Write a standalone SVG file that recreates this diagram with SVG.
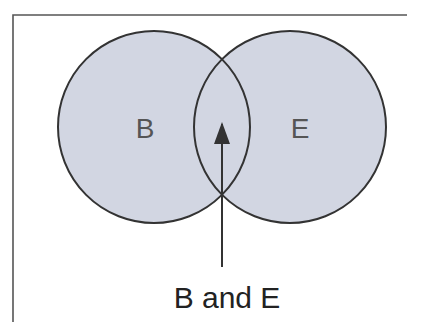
<svg xmlns="http://www.w3.org/2000/svg" width="425" height="322" viewBox="0 0 425 322">
  <style>
    .fill { fill: #d2d6e2; stroke: none; }
    .ring { fill: none; stroke: #333; stroke-width: 2; }
    .frame { fill: none; stroke: #555; stroke-width: 1.6; }
    .lbl { font-family: "Liberation Sans", Arial, sans-serif; font-size: 28px; text-anchor: middle; }
    .conn { stroke: #333; stroke-width: 2; fill: none; }
  </style>
  <defs>
    <marker id="head" viewBox="0 0 22 16" refX="20" refY="8" markerWidth="22" markerHeight="16" markerUnits="userSpaceOnUse" orient="auto">
      <path d="M0,0 L22,8 L0,16 z" fill="#333"/>
    </marker>
  </defs>
  <rect width="425" height="322" fill="#fff"/>
  <!-- border -->
  <path class="frame" d="M13,322 L13,15 L407,15"/>
  <!-- set B -->
  <g id="setB">
    <circle class="fill" cx="154" cy="127" r="96"/>
  </g>
  <!-- set E -->
  <g id="setE">
    <circle class="fill" cx="290" cy="127" r="96"/>
  </g>
  <circle class="ring" cx="154" cy="127" r="96"/>
  <circle class="ring" cx="290" cy="127" r="96"/>
  <text class="lbl" x="145" y="138" fill="#555">B</text>
  <text class="lbl" x="300" y="138" fill="#555">E</text>
  <g id="connectors">
    <line class="conn" x1="222" y1="267" x2="222" y2="124" marker-end="url(#head)"/>
  </g>
  <g id="intersection-label">
    <text class="lbl" x="227" y="308" fill="#222" style="font-size:30px">B and E</text>
  </g>
</svg>
